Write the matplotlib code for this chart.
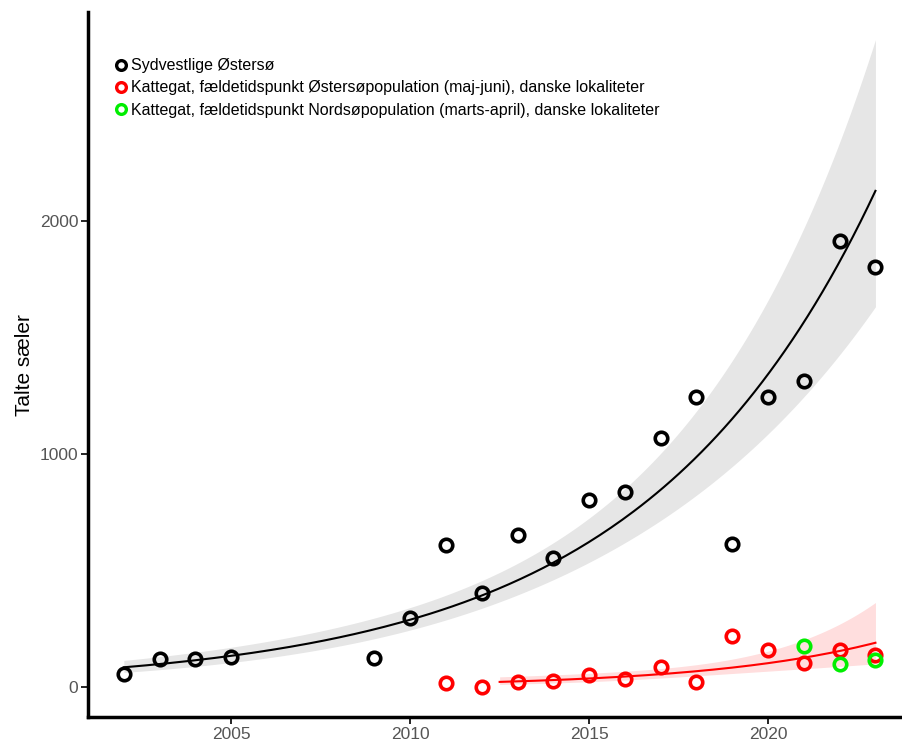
import numpy as np
import matplotlib.pyplot as plt

# Talte sæler per år
aar_sv = [2002, 2003, 2004, 2005, 2009, 2010, 2011, 2012, 2013, 2014,
          2015, 2016, 2017, 2018, 2019, 2020, 2021, 2022, 2023]
antal_sv = [56, 120, 120, 129, 124, 296, 609, 403, 652, 554,
            803, 837, 1069, 1245, 614, 1245, 1313, 1914, 1803]

aar_kat_oe = [2011, 2012, 2013, 2014, 2015, 2016, 2017, 2018, 2019, 2020, 2021, 2022, 2023]
antal_kat_oe = [17, 0, 21, 26, 52, 34, 86, 21, 219, 159, 103, 159, 137]

aar_kat_nord = [2021, 2022, 2023]
antal_kat_nord = [176, 99, 116]

labels = ["Sydvestlige Østersø",
          "Kattegat, fældetidspunkt Østersøpopulation (maj-juni), danske lokaliteter",
          "Kattegat, fældetidspunkt Nordsøpopulation (marts-april), danske lokaliteter"]


def loglin_fit(x, y, xnew):
    # lineaer regression paa log(antal) med 95% konfidensbaand
    x = np.asarray(x, float)
    ly = np.log(np.asarray(y, float))
    n = len(x)
    b, a = np.polyfit(x, ly, 1)
    res = ly - (a + b * x)
    s = np.sqrt(np.sum(res ** 2) / (n - 2))
    sxx = np.sum((x - x.mean()) ** 2)
    se = s * np.sqrt(1 / n + (xnew - x.mean()) ** 2 / sxx)
    eta = a + b * xnew
    return np.exp(eta), np.exp(eta - 1.96 * se), np.exp(eta + 1.96 * se)


fig = plt.figure(figsize=(9.03, 7.49), dpi=100)
ax = fig.add_axes([0.0975, 0.0427, 0.9025, 0.941])

xs = np.linspace(2002, 2023, 200)
fit, lo, hi = loglin_fit(aar_sv, antal_sv, xs)
ax.fill_between(xs, lo, hi, color='#e6e6e6', lw=0, zorder=1)
ax.plot(xs, fit, color='black', lw=1.5, zorder=2)

sel = np.array(aar_kat_oe) >= 2013
xr = np.linspace(2012.5, 2023, 200)
fit2, lo2, hi2 = loglin_fit(np.array(aar_kat_oe)[sel], np.array(antal_kat_oe)[sel], xr)
ax.fill_between(xr, lo2, hi2, color='#ffdede', lw=0, zorder=1)
ax.plot(xr, fit2, color='#ff0000', lw=1.5, zorder=2)

mk = dict(marker='o', ls='none', ms=9, mew=2.6, mfc='none', zorder=3)
ax.plot(aar_sv, antal_sv, mec='black', label=labels[0], **mk)
ax.plot(aar_kat_oe, antal_kat_oe, mec='#ff0000', label=labels[1], **mk)
ax.plot(aar_kat_nord, antal_kat_nord, mec='#00ee00', label=labels[2], **mk)

ax.set_xlim(2001.0, 2023.77)
ax.set_ylim(-129, 2897)
ax.set_xticks([2005, 2010, 2015, 2020])
ax.set_yticks([0, 1000, 2000])
for s in ['top', 'right']:
    ax.spines[s].set_visible(False)
for s in ['left', 'bottom']:
    ax.spines[s].set_linewidth(2.5)
ax.tick_params(length=5, width=1.2, pad=2, colors='black', labelcolor='#555555', labelsize=12.5)
for t in ax.get_xticklabels() + ax.get_yticklabels():
    t.set_family('Liberation Sans')
ax.set_ylabel('Talte sæler', fontsize=15, family='Liberation Sans', labelpad=4)

leg = ax.legend(loc='upper left', bbox_to_anchor=(0.017, 0.955), frameon=False,
                handlelength=0.6, handletextpad=0.35, labelspacing=0.45,
                prop={'family': 'Liberation Sans', 'size': 11.5})
for h in leg.legend_handles:
    h.set_markersize(7)
    h.set_markeredgewidth(2.4)

fig.savefig('out.png', dpi=100)
